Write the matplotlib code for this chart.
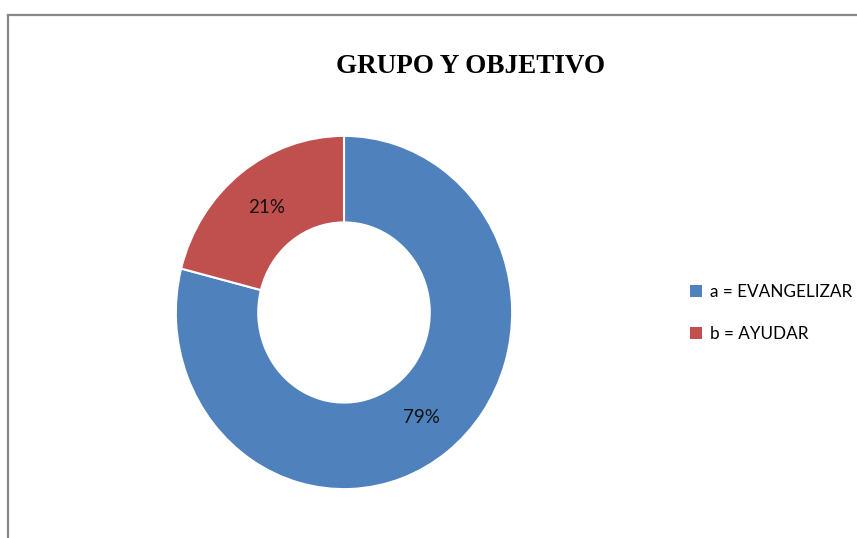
import matplotlib
matplotlib.use("Agg")
import matplotlib.pyplot as plt
from matplotlib.lines import Line2D
from matplotlib.patches import Patch

categories = ["a = EVANGELIZAR", "b = AYUDAR"]
values = [79, 21]
colors = ["#4F81BD", "#C0504D"]
title = "GRUPO Y OBJETIVO"

W, H = 857, 538
fig = plt.figure(figsize=(W / 100, H / 100), dpi=100)
fig.patch.set_facecolor("white")

# frame lines (left and top)
fig.add_artist(Line2D([8 / W, 8 / W], [0, 1 - 15 / H], transform=fig.transFigure,
                      color="#888888", lw=1.6))
fig.add_artist(Line2D([8 / W, 856 / W], [1 - 15 / H, 1 - 15 / H], transform=fig.transFigure,
                      color="#888888", lw=1.6))

cx, cy, rx, ry = 344, 312.5, 169, 177.5
ax = fig.add_axes([(cx - rx) / W, 1 - (cy + ry) / H, 2 * rx / W, 2 * ry / H])
wedges, texts, autotexts = ax.pie(
    values, colors=colors, startangle=90, counterclock=False,
    autopct="%1.0f%%", pctdistance=0.75, radius=1,
    wedgeprops=dict(width=0.49, edgecolor="white", linewidth=1.5),
    textprops=dict(fontsize=13.5, color="#111111", family="Lato"))
ax.set_xlim(-1.005, 1.005)
ax.set_ylim(-1.005, 1.005)
ax.set_aspect("auto")
ax.axis("off")

fig.text(471 / W, 1 - 66 / H, title, ha="center", va="center",
         fontsize=19.5, fontweight="bold", family="Liberation Serif")

handles = [Patch(facecolor=c, edgecolor="none") for c in colors]
leg = fig.legend(handles, categories, loc="center left",
                 bbox_to_anchor=(690 / W, 1 - 313 / H), frameon=False,
                 prop=dict(family="Lato", size=12.3),
                 handlelength=0.7, handleheight=0.7, handletextpad=0.5,
                 labelspacing=1.5, borderpad=0, borderaxespad=0)

fig.savefig("out.png", dpi=100)
